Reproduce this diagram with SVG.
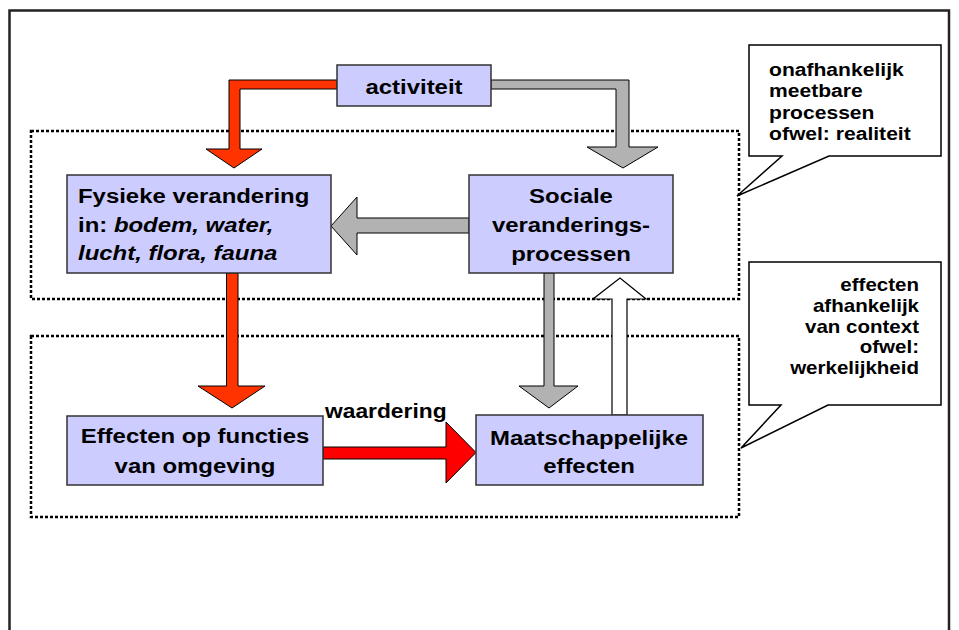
<svg xmlns="http://www.w3.org/2000/svg" width="959" height="630" viewBox="0 0 959 630">
<style>
text{font-family:"Liberation Sans",Arial,sans-serif;font-weight:bold;fill:#000}
.box{fill:#ccccff;stroke:#333;stroke-width:1.5}
.t21{font-size:21px}
.t20{font-size:20px}
.c1{font-size:18.5px}
.c2{font-size:18px}
.red{fill:#ff3300;stroke:#000;stroke-width:1}
.red2{fill:#ff0000;stroke:#000;stroke-width:1}
.gray{fill:#b2b2b2;stroke:#000;stroke-width:1}
.white{fill:#fff;stroke:#000;stroke-width:1.2}
.dot{fill:none;stroke:#000;stroke-width:2.5;stroke-dasharray:3 2}
.call{fill:#fff;stroke:#000;stroke-width:1.5}
</style>
<rect width="959" height="630" fill="#fff"/>
<path d="M9.5,630 V10.5 H949 V630" fill="none" stroke="#222" stroke-width="2.5"/>
<g id="regions">
<rect class="dot" x="31" y="131" width="708" height="168"/>
<rect class="dot" x="31" y="336" width="708" height="181"/>
</g>
<g id="connectors">
<polygon class="red" points="337,80 229,80 229,149 206,149 234,168 262,149 240,149 240,89 337,89"/>
<polygon class="gray" points="491,80 629,80 629,147 658,147 623,168 587,147 616,147 616,89 491,89"/>
<polygon class="gray" points="469,218 357,218 357,197 331,226 357,255 357,233 469,233"/>
<polygon class="red" points="226.5,273 238,273 238,386 265,386 232,408 198,386 226.5,386"/>
<polygon class="gray" points="544,273 554,273 554,386 578,386 549,408 519,386 544,386"/>
<polygon class="white" points="612,415 612,299 593,299 620,278 646,299 627,299 627,415"/>
<polygon class="red2" points="323,447 446,447 446,422 476,452.5 446,483 446,459 323,459"/>
<text class="t20" transform="translate(325,418) scale(1.14,1)">waardering</text>
</g>
<g id="activiteit">
<rect class="box" x="337" y="65" width="154" height="41"/>
<text class="t21" text-anchor="middle" transform="translate(414,94) scale(1.14,1)">activiteit</text>
</g>
<g id="fysieke">
<rect class="box" x="67" y="175" width="264" height="98"/>
<text class="t21" transform="translate(78,0) scale(1.14,1)"><tspan x="0" y="203">Fysieke verandering</tspan><tspan x="0" y="232">in: <tspan font-style="italic">bodem, water,</tspan></tspan><tspan x="0" y="260" font-style="italic">lucht, flora, fauna</tspan></text>
</g>
<g id="sociale">
<rect class="box" x="469" y="175" width="204" height="98"/>
<text class="t21" text-anchor="middle" transform="translate(571,0) scale(1.14,1)"><tspan x="0" y="203">Sociale</tspan><tspan x="0" y="232">veranderings-</tspan><tspan x="0" y="261">processen</tspan></text>
</g>
<g id="effecten">
<rect class="box" x="67" y="416" width="256" height="69"/>
<text class="t21" text-anchor="middle" transform="translate(195,0) scale(1.14,1)"><tspan x="0" y="443">Effecten op functies</tspan><tspan x="0" y="473">van omgeving</tspan></text>
</g>
<g id="maatschappelijke">
<rect class="box" x="476" y="415" width="227" height="70"/>
<text class="t21" text-anchor="middle" transform="translate(589,0) scale(1.14,1)"><tspan x="0" y="445">Maatschappelijke</tspan><tspan x="0" y="473">effecten</tspan></text>
</g>
<g id="callout1">
<path class="call" d="M749,45 H941 V156 H829 L737,196 L782,156 H749 Z"/>
<text class="c1" transform="translate(769,0) scale(1.14,1)"><tspan x="0" y="76">onafhankelijk</tspan><tspan x="0" y="97.5">meetbare</tspan><tspan x="0" y="119">processen</tspan><tspan x="0" y="140">ofwel: realiteit</tspan></text>
</g>
<g id="callout2">
<path class="call" d="M749,262 H941 V405 H828 L741,448 L781,405 H749 Z"/>
<text class="c2" text-anchor="end" transform="translate(919,0) scale(1.14,1)"><tspan x="0" y="291">effecten</tspan><tspan x="0" y="312">afhankelijk</tspan><tspan x="0" y="333">van context</tspan><tspan x="0" y="353.5">ofwel:</tspan><tspan x="0" y="374.5">werkelijkheid</tspan></text>
</g>
</svg>
